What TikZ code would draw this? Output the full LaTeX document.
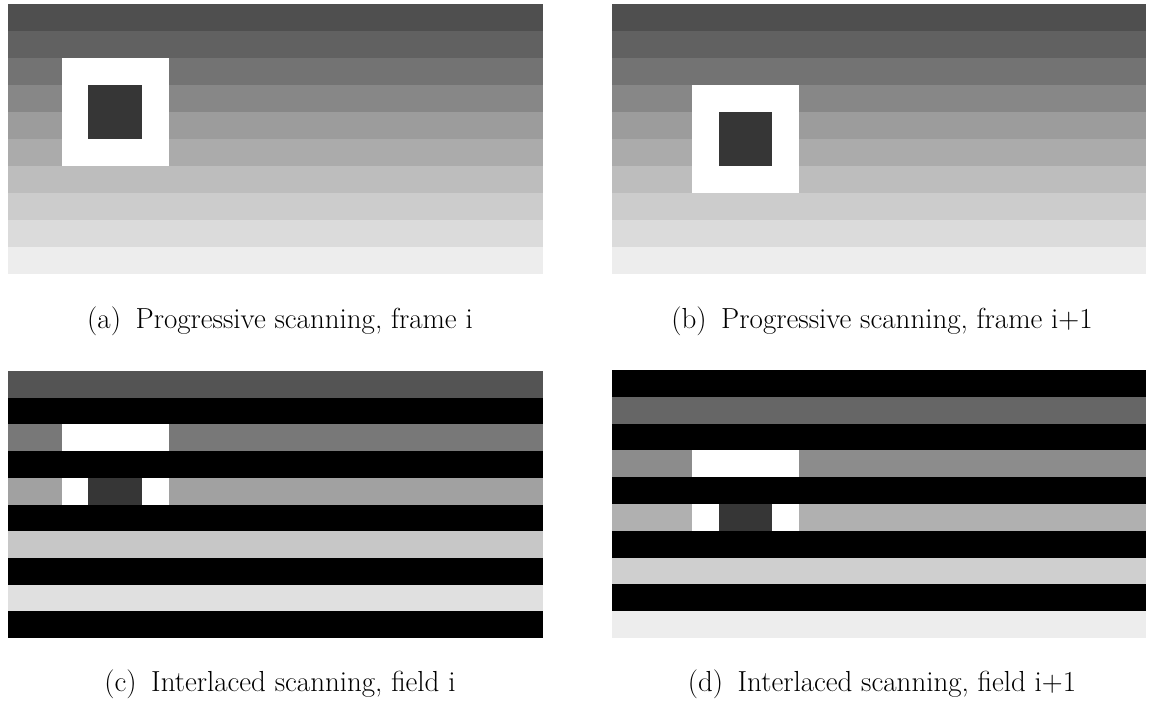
\documentclass[tikz,border=0pt]{standalone}
\definecolor{darksq}{gray}{0.21}
\tikzset{
  x=0.02cm, y=-0.02cm,
  caption/.style={font=\fontsize{16.5}{19}\selectfont, anchor=center, inner sep=0pt},
}
\begin{document}
\begin{tikzpicture}
\useasboundingbox[fill=white] (0,0) rectangle (1149,709);
% ---------- (a) progressive, frame i ----------
\foreach \r/\g in {0/0.31,1/0.38,2/0.45,3/0.53,4/0.61,5/0.67,6/0.74,7/0.80,8/0.86,9/0.93}{
  \definecolor{tmp}{gray}{\g}
  \fill[tmp] (8,{4+\r*27}) rectangle (543,{4+(\r+1)*27});
}
\fill[white] (61.5,58) rectangle (168.5,166);
\fill[darksq] (88.25,85) rectangle (141.75,139);
% ---------- (b) progressive, frame i+1 ----------
\foreach \r/\g in {0/0.31,1/0.38,2/0.45,3/0.53,4/0.61,5/0.67,6/0.74,7/0.80,8/0.86,9/0.93}{
  \definecolor{tmp}{gray}{\g}
  \fill[tmp] (612,{4+\r*27}) rectangle (1146,{4+(\r+1)*27});
}
\fill[white] (692.1,85) rectangle (798.9,193);
\fill[darksq] (718.8,112) rectangle (772.2,166);
% ---------- (c) interlaced, field i ----------
\foreach \r/\g in {0/0.33,1/0,2/0.47,3/0,4/0.63,5/0,6/0.78,7/0,8/0.88,9/0}{
  \definecolor{tmp}{gray}{\g}
  \fill[tmp] (8,{371+\r*26.7}) rectangle (543,{371+(\r+1)*26.7});
}
\fill[white] (61.5,{371+2*26.7}) rectangle (168.5,{371+3*26.7});
\fill[white] (61.5,{371+4*26.7}) rectangle (168.5,{371+5*26.7});
\fill[darksq] (88.25,{371+4*26.7}) rectangle (141.75,{371+5*26.7});
% ---------- (d) interlaced, field i+1 ----------
\foreach \r/\g in {0/0,1/0.40,2/0,3/0.55,4/0,5/0.69,6/0,7/0.81,8/0,9/0.93}{
  \definecolor{tmp}{gray}{\g}
  \fill[tmp] (612,{370+\r*26.8}) rectangle (1146,{370+(\r+1)*26.8});
}
\fill[white] (692.1,{370+3*26.8}) rectangle (798.9,{370+4*26.8});
\fill[white] (692.1,{370+5*26.8}) rectangle (798.9,{370+6*26.8});
\fill[darksq] (718.8,{370+5*26.8}) rectangle (772.2,{370+6*26.8});
% ---------- captions ----------
\node[caption] (capa) at (280,321) {(a)\hspace{0.5em}Progressive scanning, frame i};
\node[caption] (capb) at (882,321) {(b)\hspace{0.5em}Progressive scanning, frame i+1};
\node[caption] (capc) at (280,684) {(c)\hspace{0.5em}Interlaced scanning, field i};
\node[caption] (capd) at (882,684) {(d)\hspace{0.5em}Interlaced scanning, field i+1};
\end{tikzpicture}
\end{document}
